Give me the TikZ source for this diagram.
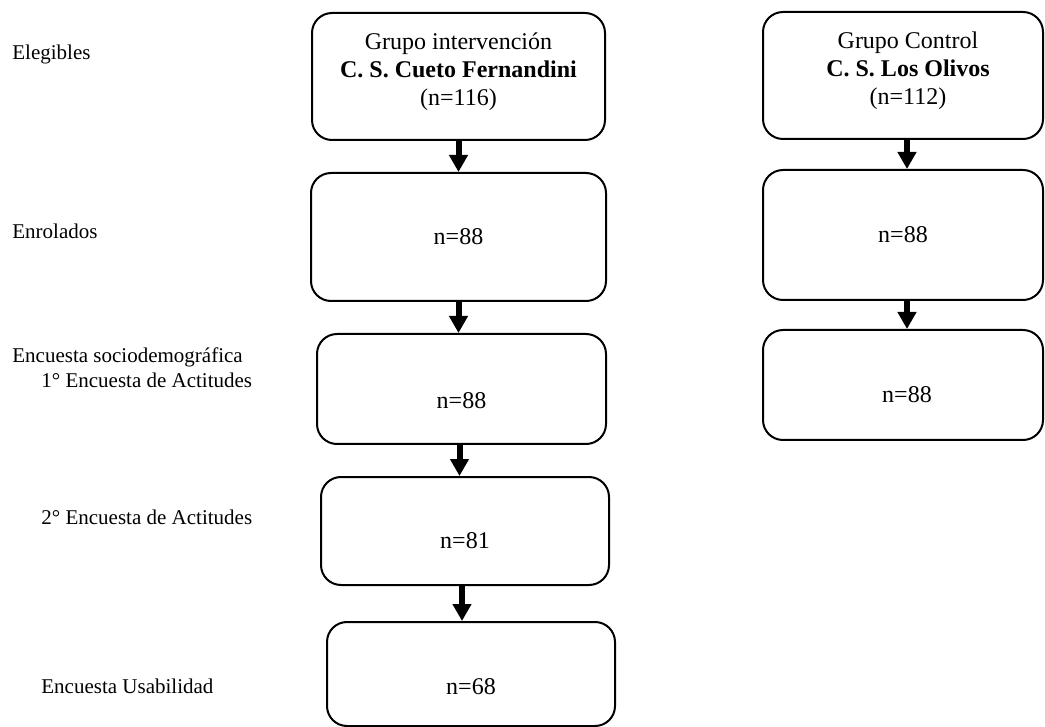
\documentclass[tikz,border=0pt]{standalone}
\usepackage{fontspec}
\setmainfont{Liberation Serif}
\usetikzlibrary{arrows.meta}
\newcommand{\mvtxt}[2]{\raisebox{#1}[\height][\depth]{#2}}
\begin{document}
\begin{tikzpicture}[x=0.5pt,y=-0.5pt,
  flowbox/.style={draw, line width=1pt, rounded corners=10pt, align=center,
    font=\fontsize{12}{14}\selectfont, inner sep=0pt},
  sidelabel/.style={anchor=base west, inner sep=0pt, align=left,
    font=\fontsize{10.5}{12.5}\selectfont},
  flowarrow/.style={line width=3pt, -{Triangle[width=9pt,length=8.5pt]}, shorten >=0pt}
]
\useasboundingbox (0,0) rectangle (1045,727);

% left column
\node[flowbox, minimum width=146.5pt, minimum height=63.5pt] (L1) at (458.5,76.5)
  {\mvtxt{2.5pt}{\begin{tabular}{@{}c@{}}Grupo intervención\\ \textbf{C. S. Cueto Fernandini}\\ (n=116)\end{tabular}}};
\node[flowbox, minimum width=147.5pt, minimum height=64pt] (L2) at (458.5,237) {n=88};
\node[flowbox, minimum width=144.5pt, minimum height=55pt] (L3) at (461.5,389) {\mvtxt{-6pt}{n=88}};
\node[flowbox, minimum width=144pt, minimum height=54pt] (L4) at (465,531) {\mvtxt{-5pt}{n=81}};
\node[flowbox, minimum width=144pt, minimum height=52pt] (L5) at (471,674) {\mvtxt{-6.5pt}{n=68}};

% right column
\node[flowbox, minimum width=140pt, minimum height=63.5pt] (R1) at (903,75.5)
  {\mvtxt{2.5pt}{\hspace*{5pt}\begin{tabular}{@{}c@{}}Grupo Control\\ \textbf{C. S. Los Olivos}\\ (n=112)\end{tabular}}};
\node[flowbox, minimum width=140pt, minimum height=65pt] (R2) at (903,235) {n=88};
\node[flowbox, minimum width=140pt, minimum height=55pt] (R3) at (903,385) {\mvtxt{-5pt}{\hspace*{4pt}n=88}};

% side labels
\node[sidelabel] (s1) at (12,60) {Elegibles};
\node[sidelabel] (s2) at (12,239) {Enrolados};
\node[sidelabel] (s3) at (12,387) {Encuesta sociodemográfica\\\hspace*{14.5pt}1° Encuesta de Actitudes};
\node[sidelabel] (s4) at (41,524) {2° Encuesta de Actitudes};
\node[sidelabel] (s5) at (41,693) {Encuesta Usabilidad};

% arrows
\draw[flowarrow] (L1.south) -- (L1.south |- L2.north);
\draw[flowarrow] (L2.south) -- (L2.south |- L3.north);
\draw[flowarrow] ([xshift=0.5pt]L3.south -| L2.south) -- ([xshift=0.5pt]L2.south |- L4.north);
\draw[flowarrow] ([xshift=-1.5pt]L4.south) -- ([xshift=-1.5pt]L4.south |- L5.north);
\draw[flowarrow] ([xshift=2pt]R1.south) -- ([xshift=2pt]R1.south |- R2.north);
\draw[flowarrow] ([xshift=2pt]R2.south) -- ([xshift=2pt]R2.south |- R3.north);
\end{tikzpicture}
\end{document}
